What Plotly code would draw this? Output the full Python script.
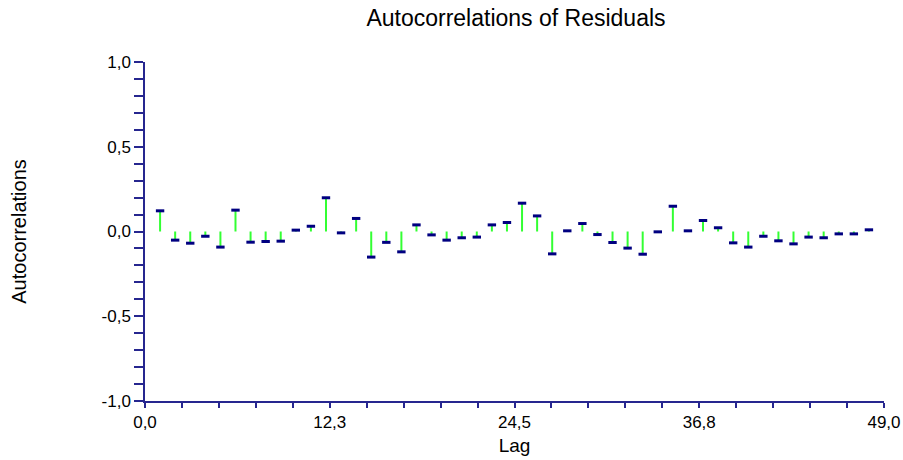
import plotly.graph_objects as go

lags = list(range(1, 49))
acf = [0.122, -0.051, -0.069, -0.028, -0.092, 0.126, -0.063, -0.059, -0.057, 0.008,
       0.031, 0.199, -0.008, 0.077, -0.151, -0.064, -0.120, 0.039, -0.020, -0.051,
       -0.037, -0.033, 0.039, 0.053, 0.167, 0.092, -0.132, 0.004, 0.047, -0.018,
       -0.065, -0.098, -0.134, -0.002, 0.149, 0.004, 0.065, 0.022, -0.067, -0.092,
       -0.028, -0.055, -0.073, -0.033, -0.037, -0.014, -0.014, 0.010]

x_tickvals = [0, 12.25, 24.5, 36.75, 49]
x_ticktext = ["0,0", "12,3", "24,5", "36,8", "49,0"]
y_tickvals = [-1, -0.5, 0, 0.5, 1]
y_ticktext = ["-1,0", "-0,5", "0,0", "0,5", "1,0"]

AXIS = "#26268f"
FONT = "Liberation Sans, Arial, sans-serif"

stem_x, stem_y = [], []
for lag, v in zip(lags, acf):
    stem_x += [lag, lag, None]
    stem_y += [0, v, None]

fig = go.Figure()
fig.add_trace(go.Scatter(x=stem_x, y=stem_y, mode="lines",
                         line=dict(color="#33ff33", width=2), hoverinfo="skip"))
fig.add_trace(go.Scatter(x=lags, y=acf, mode="markers",
                         marker=dict(symbol="line-ew", size=6,
                                     line=dict(color="#000080", width=3))))

fig.update_layout(
    width=903, height=460,
    margin=dict(l=145, r=19, t=62, b=59),
    paper_bgcolor="white", plot_bgcolor="white",
    showlegend=False,
    font=dict(family=FONT, size=17, color="black"),
    title=dict(text="Autocorrelations of Residuals", x=0.5714, xanchor="center",
               y=0.961, yanchor="middle", font=dict(size=23)),
)
fig.update_xaxes(range=[0, 49], showgrid=False, zeroline=False, automargin=False,
                 showline=True, linecolor=AXIS, linewidth=1.5,
                 tickmode="array", tickvals=x_tickvals, ticktext=x_ticktext,
                 ticks="outside", ticklen=5, tickcolor=AXIS, tickwidth=1.5,
                 tickfont=dict(size=17),
                 minor=dict(dtick=2.45, tick0=0, ticks="outside", ticklen=5,
                            tickcolor=AXIS, tickwidth=1.5),
                 title=dict(text="Lag", font=dict(size=19), standoff=8))
fig.update_yaxes(range=[-1, 1], showgrid=False, zeroline=False, automargin=False,
                 showline=True, linecolor=AXIS, linewidth=1.5,
                 tickmode="array", tickvals=y_tickvals, ticktext=y_ticktext,
                 ticks="outside", ticklen=9, tickcolor=AXIS, tickwidth=1.5,
                 tickfont=dict(size=17),
                 minor=dict(dtick=0.1, tick0=0, ticks="outside", ticklen=9,
                            tickcolor=AXIS, tickwidth=1.5),
                 title=dict(text="Autocorrelations", font=dict(size=20), standoff=70))

fig.write_html("out.html", config={"displayModeBar": False},
               post_script="document.body.style.margin='0';document.body.style.overflow='hidden';")
